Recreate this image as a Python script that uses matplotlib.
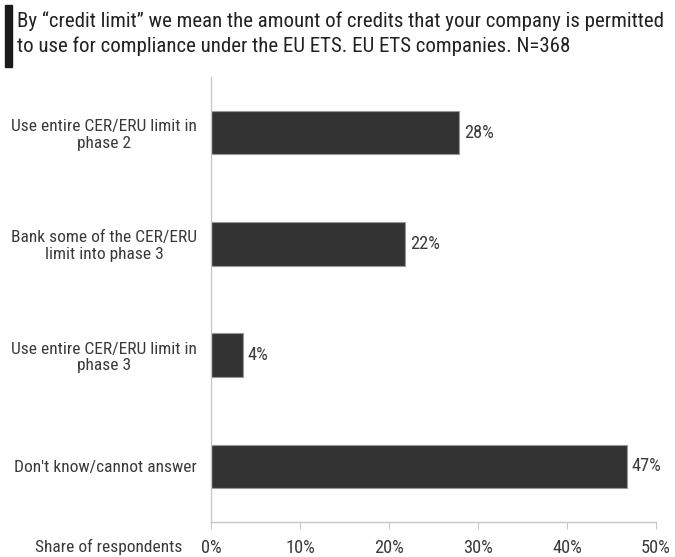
import matplotlib.pyplot as plt
from matplotlib import font_manager
from matplotlib.patches import Rectangle
import numpy as np

categories = [
    "Use entire CER/ERU limit in\nphase 2",
    "Bank some of the CER/ERU\nlimit into phase 3",
    "Use entire CER/ERU limit in\nphase 3",
    "Don't know/cannot answer",
]
shares = [27.9, 21.8, 3.6, 46.7]
xticks = [0, 10, 20, 30, 40, 50]

title = ("By \u201ccredit limit\u201d we mean the amount of credits that your company is permitted\n"
         "to use for compliance under the EU ETS. EU ETS companies. N=368")

# look for a narrow sans face; fall back to a plain one
fonts = font_manager.fontManager.ttflist
narrow = [f for f in fonts
          if f.style == 'normal' and f.weight in (400, 'normal', 'regular')
          and (f.stretch in ('condensed', 'semi-condensed')
               or 'Narrow' in f.name or 'Condensed' in f.name)]
narrow.sort(key=lambda f: (0 if 'Liberation' in f.name else 1 if 'Roboto' in f.name else 2))
if narrow:
    fp = font_manager.FontProperties(fname=narrow[0].fname)
    scale = 1.0
else:
    fp = font_manager.FontProperties(family='Liberation Sans')
    scale = 0.88

txt = '#3a3a3a'
fs = 12.5 * scale
pct_fs = 13.2 * scale
title_fs = 15.0 * scale

fig = plt.figure(figsize=(6.75, 5.57), dpi=100)
ax = fig.add_axes([211 / 675, 1 - 522 / 557, 445 / 675, 445 / 557])

y = np.arange(len(categories))
ax.barh(y, shares, height=0.39, color='#333333', edgecolor='#999999', linewidth=0.8)
for yi, v in zip(y, shares):
    ax.text(v + 0.55, yi, f"{v:.0f}%", va='center', ha='left',
            color=txt, fontproperties=fp, size=pct_fs)

ax.set_xlim(0, 50)
ax.set_ylim(len(categories) - 0.5, -0.5)
ax.set_yticks(y)
ax.set_yticklabels(categories, color=txt, linespacing=1.15, fontproperties=fp, size=fs)
for lab in ax.get_yticklabels():
    lab.set_multialignment('center')
ax.set_xticks(xticks)
ax.set_xticklabels([f"{t}%" for t in xticks], color=txt, fontproperties=fp, size=pct_fs)
ax.tick_params(axis='y', length=0, pad=10)
ax.tick_params(axis='x', length=5, color='#c8c8c8', pad=7)

for s in ['top', 'right']:
    ax.spines[s].set_visible(False)
for s in ['left', 'bottom']:
    ax.spines[s].set_color('#c8c8c8')
    ax.spines[s].set_linewidth(1)

fig.text(182 / 675, 1 - 547 / 557, "Share of respondents", ha='right', va='center',
         color=txt, fontproperties=fp, size=fs)

# heading with the black marker bar on its left
fig.patches.append(Rectangle((5 / 675, 1 - 67 / 557), 7 / 675, 62 / 557,
                             transform=fig.transFigure, color='#1a1a1a'))
fig.text(17 / 675, 1 - 34 / 557, title, ha='left', va='center',
         color='#222222', linespacing=1.35, fontproperties=fp, size=title_fs)

fig.savefig('out.png', dpi=100)
